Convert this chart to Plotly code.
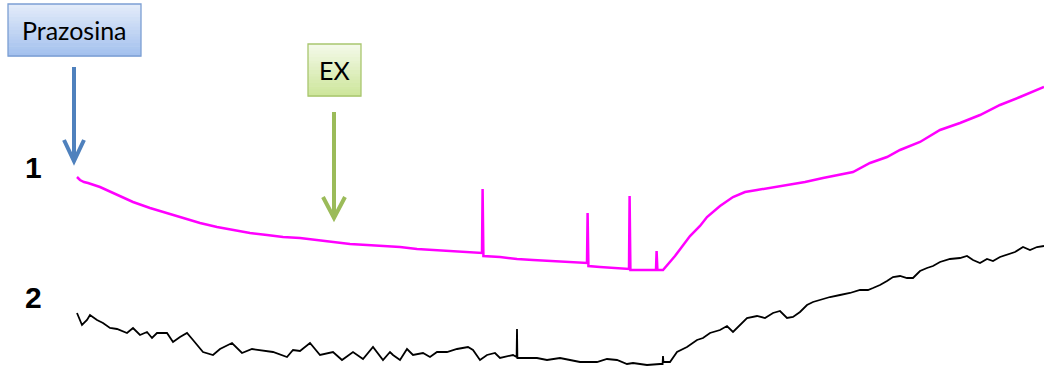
import plotly.graph_objects as go

# ---- data (time in px-like units, signal depth: larger = lower) ----
t1 = [77, 80, 84, 88, 100, 115, 133, 150, 167, 185, 200, 217, 233, 250, 267, 283, 300, 317, 333,
      350, 367, 383, 400, 417, 433, 450, 467, 482, 482.6, 483.4, 500, 517, 533, 550, 570, 587,
      587.6, 588.4, 600, 615, 629, 629.6, 630.4, 645, 656, 656.6, 657.4, 663, 675, 690, 700, 707,
      720, 733, 745, 757, 770, 790, 805, 823, 840, 853, 870, 887, 900, 920, 940, 960, 980,
      1000, 1020, 1033, 1044]
v1 = [177, 180, 182, 183, 187, 194, 202, 208, 213, 218, 223, 227, 230, 233, 235, 237, 238, 240, 242,
      244, 245, 246, 247, 249, 250, 251, 252, 253, 189, 256, 257, 259, 260, 261, 262, 263,
      213, 266, 267, 268, 269, 196, 270, 270, 270, 251, 270, 270, 256, 236, 226, 217,
      206, 197, 192, 190, 188, 185, 182, 178, 175, 172, 163, 157, 150, 142, 130, 123, 115,
      105, 97, 92, 87]

t2 = [77, 82, 87, 90, 97, 103, 110, 117, 127, 133, 140, 147, 152, 157, 167, 173, 180, 187, 193,
      203, 213, 220, 232, 242, 252, 260, 273, 287, 293, 300, 310, 320, 333, 342, 353, 363, 373,
      383, 390, 393, 400, 407, 413, 423, 430, 437, 447, 457, 468, 473, 480, 487, 495, 500, 513,
      516.6, 517, 517.4, 537, 547, 560, 570, 580, 597, 607, 617, 627, 633, 647, 660, 662.6, 663,
      663.4, 670, 677, 687, 697, 703, 710, 720, 727, 733, 740, 747, 757, 765, 773, 780, 787, 793,
      800, 807, 813, 820, 830, 840, 850, 860, 868, 873, 880, 887, 893, 900, 907, 913, 920, 927,
      933, 940, 950, 960, 967, 973, 980, 987, 993, 1000, 1007, 1015, 1023, 1030, 1037, 1044]
v2 = [313, 325, 320, 315, 320, 323, 328, 329, 333, 328, 335, 332, 338, 333, 333, 342, 337, 333, 340,
      352, 355, 349, 343, 353, 349, 350, 352, 357, 350, 351, 343, 355, 352, 360, 352, 359, 347,
      360, 352, 355, 360, 349, 355, 353, 357, 352, 352, 349, 347, 350, 360, 355, 353, 358, 355,
      357, 329, 358, 358, 360, 358, 360, 362, 362, 359, 360, 364, 363, 365, 364, 364, 356,
      362, 362, 352, 347, 340, 338, 333, 330, 326, 332, 325, 318, 316, 318, 313, 311, 318, 317,
      312, 305, 302, 300, 297, 295, 293, 290, 290, 288, 285, 281, 277, 276, 278, 278, 271, 268,
      266, 262, 259, 258, 256, 260, 263, 259, 261, 257, 255, 252, 247, 250, 247, 246]

trace_labels = ["1", "2"]
drug_labels = ["Prazosina", "EX"]

W, H = 1044, 374
fig = go.Figure()
shapes = []


def hex2rgb(h):
    h = h.lstrip("#")
    return [int(h[i:i + 2], 16) for i in (0, 2, 4)]


# label boxes: banded vertical gradient (light at top, deeper at bottom) + border
def box(x0, x1, y0, y1, top, bottom, border, n=16):
    a, b = hex2rgb(top), hex2rgb(bottom)
    step = (y1 - y0) / n
    for i in range(n):
        f = i / (n - 1)
        c = "rgb(%d,%d,%d)" % tuple(round(a[k] + (b[k] - a[k]) * f) for k in range(3))
        shapes.append(dict(type="rect", x0=x0, x1=x1, y0=y0 + i * step, y1=y0 + (i + 1) * step + 0.6,
                           fillcolor=c, line=dict(width=0), layer="below"))
    shapes.append(dict(type="rect", x0=x0, x1=x1, y0=y0, y1=y1, fillcolor="rgba(0,0,0,0)",
                       line=dict(color=border, width=1.3), layer="below"))


box(8, 141, 4, 56, "#e2ebf9", "#a4c1ee", "#7c9fd3")
box(308, 361, 44, 96, "#f3f9e8", "#cee69c", "#a9c66f")

fig.add_trace(go.Scatter(x=t1, y=v1, mode="lines", line=dict(color="#ff00ff", width=2.5),
                         hoverinfo="skip", showlegend=False))
fig.add_trace(go.Scatter(x=t2, y=v2, mode="lines", line=dict(color="#000000", width=1.8),
                         hoverinfo="skip", showlegend=False))

shapes += [
    dict(type="line", x0=74, x1=74, y0=67, y1=158, line=dict(color="#4f81bd", width=4), layer="above"),
    dict(type="path", path="M 64 140 L 74 161 L 84 140", line=dict(color="#4f81bd", width=4), layer="above"),
    dict(type="line", x0=334, x1=334, y0=112, y1=214, line=dict(color="#9bbb59", width=4), layer="above"),
    dict(type="path", path="M 323 197 L 334 218 L 345 197", line=dict(color="#9bbb59", width=4), layer="above"),
]
for s in shapes:
    s.update(xref="x", yref="y")

annotations = [
    dict(x=74.5, y=30, text=drug_labels[0], font=dict(size=25, family="Lato, Liberation Sans", color="#000")),
    dict(x=334.5, y=70, text=drug_labels[1], font=dict(size=25, family="Lato, Liberation Sans", color="#000")),
    dict(x=33, y=167, text="<b>%s</b>" % trace_labels[0], font=dict(size=30, family="Liberation Sans", color="#000")),
    dict(x=33, y=297, text="<b>%s</b>" % trace_labels[1], font=dict(size=30, family="Liberation Sans", color="#000")),
]
for a in annotations:
    a.update(xref="x", yref="y", showarrow=False, xanchor="center", yanchor="middle")

fig.update_layout(
    width=W, height=H, margin=dict(l=0, r=0, t=0, b=0),
    paper_bgcolor="white", plot_bgcolor="white",
    xaxis=dict(range=[0, W], visible=False, fixedrange=True),
    yaxis=dict(range=[H, 0], visible=False, fixedrange=True),
    shapes=shapes, annotations=annotations, showlegend=False,
)
fig.write_html("out.html", config={"displayModeBar": False})
